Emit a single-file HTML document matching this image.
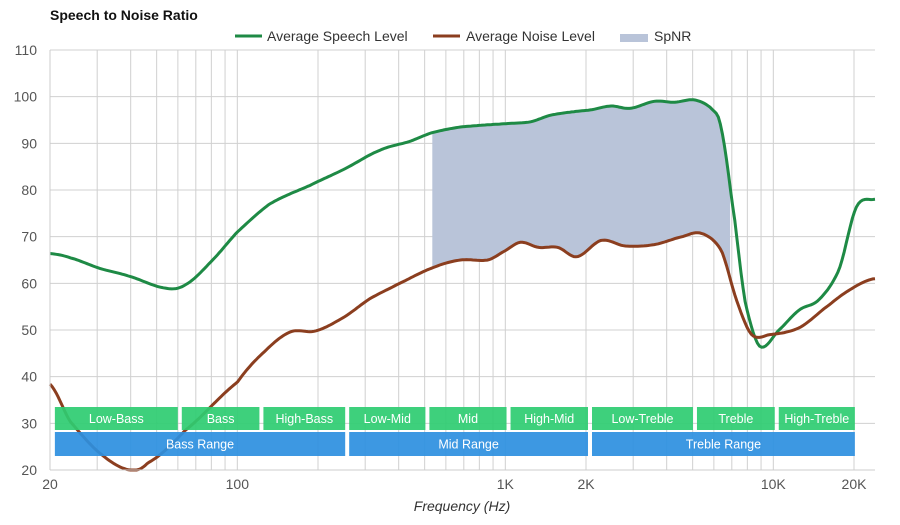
<!DOCTYPE html>
<html><head><meta charset="utf-8"><style>
body{margin:0;background:#fff;font-family:"Liberation Sans",sans-serif}
svg text{font-family:"Liberation Sans",sans-serif}
</style></head><body>
<svg id="c" width="900" height="520">
<text x="50" y="20" font-size="14" font-weight="bold" fill="#111">Speech to Noise Ratio</text>
<g>
<g><line x1="235" y1="36" x2="262" y2="36" stroke="#1e8a45" stroke-width="3"/><text x="267" y="41" font-size="14" fill="#333">Average Speech Level</text></g>
<g><line x1="433" y1="36" x2="460" y2="36" stroke="#8b3e1f" stroke-width="3"/><text x="466" y="41" font-size="14" fill="#333">Average Noise Level</text></g>
<g><rect x="620" y="34" width="28" height="8" fill="#b9c4d9"/><text x="654" y="41" font-size="14" fill="#333">SpNR</text></g>
</g>
<g id="grid"></g><g id="fill"></g><g id="lines"></g><g id="bands"></g><g id="axes"></g>
<text x="462" y="511" font-size="14" font-style="italic" fill="#333" text-anchor="middle">Frequency (Hz)</text>
</svg>
<script>
const speechFreq=[20,23.7,30.7,39.6,53.7,63.6,79,100,132,187,251,340,440,534,679,1000,1240,1470,1750,2100,2480,2920,3600,4270,5080,5870,6400,7200,7850,8900,10500,12500,14800,17600,20400,23700];
const speechDb=[66.4,65.5,63.2,61.5,59,59.6,64.4,71,77,81,84.5,88.5,90.4,92.3,93.5,94.2,94.6,96,96.7,97.2,98,97.5,99,98.8,99.3,97.5,93,73,56,46.5,50,54.3,56.5,63,76.3,78];
const noiseFreq=[20,23.7,30.7,39.6,46.3,63.6,100,127,158,196,251,312,400,534,679,862,1000,1140,1330,1570,1850,2280,2800,3600,4580,5400,6400,7300,8300,9660,12500,16100,19800,23700];
const noiseDb=[38.4,30.5,23.6,20,21.5,28.4,38.8,45.5,49.6,49.8,52.8,56.7,59.9,63.3,65,65,67,68.8,67.7,67.7,65.7,69.2,68,68.3,70,70.7,67,56.3,49,49,50.5,55.3,59,61];
const spnrRange=[534,6900];
const yTicks=[20,30,40,50,60,70,80,90,100,110];
const xLabelVals=[20,100,1000,2000,10000,20000];
const xLabelText=["20","100","1K","2K","10K","20K"];
const bandNames=["Low-Bass","Bass","High-Bass","Low-Mid","Mid","High-Mid","Low-Treble","Treble","High-Treble"];
const bandEdges=[20.5,61,123,257,512,1028,2070,5100,10300,20500];
const rangeNames=["Bass Range","Mid Range","Treble Range"];
const rangeEdges=[20.5,257,2070,20500];

const NS="http://www.w3.org/2000/svg";
const L=50,R=875,T=50,B=470;
const X=f=>L+268*Math.log10(f/20);
const Y=d=>B-(d-20)*(B-T)/90;
function mk(tag,attrs,parent){const e=document.createElementNS(NS,tag);for(const k in attrs)e.setAttribute(k,attrs[k]);document.getElementById(parent).appendChild(e);return e;}
const gridF=[];for(let d=10;d<=10000;d*=10)for(let m=1;m<10;m++){const f=d*m;if(f>=20&&f<=20000)gridF.push(f);}
gridF.push(20000);
gridF.forEach(f=>{const e=mk('line',{x1:X(f),x2:X(f),y1:T,y2:B,stroke:'#d0d0d0','stroke-width':1},'grid');

});
yTicks.forEach(t=>{const e=mk('line',{x1:L,x2:R,y1:Y(t),y2:Y(t),stroke:'#d0d0d0','stroke-width':1},'grid');


const tx=mk('text',{x:37,y:Y(t)+5,'font-size':14,fill:'#555','text-anchor':'end'},'axes');tx.textContent=t;

});
mk('line',{x1:L,x2:L,y1:T,y2:B,stroke:'#ccc'},'axes');
mk('line',{x1:L,x2:R,y1:B,y2:B,stroke:'#ccc'},'axes');
xLabelVals.forEach((v,i)=>{const tx=mk('text',{x:X(v),y:489,'font-size':14,fill:'#555','text-anchor':'middle'},'axes');tx.textContent=xLabelText[i];

});
function evalAt(fs,ds,f){const lx=Math.log10(f);const xs=fs.map(Math.log10);let i=0;while(i<xs.length-2&&lx>xs[i+1])i++;
const t=Math.max(0,Math.min(1,(lx-xs[i])/(xs[i+1]-xs[i])));const p0=ds[Math.max(0,i-1)],p1=ds[i],p2=ds[i+1],p3=ds[Math.min(ds.length-1,i+2)];
return 0.5*((2*p1)+(-p0+p2)*t+(2*p0-5*p1+4*p2-p3)*t*t+(-p0+3*p1-3*p2+p3)*t*t*t);}
function path(fs,ds,a,b){let s='';const n=400;for(let k=0;k<=n;k++){const f=a*Math.pow(b/a,k/n);s+=(k?'L':'M')+X(f).toFixed(1)+','+Y(Math.max(20,evalAt(fs,ds,f))).toFixed(1);}return s;}
(function(){const a=spnrRange[0],b=spnrRange[1],n=200;let s='';
for(let k=0;k<=n;k++){const f=a*Math.pow(b/a,k/n);s+=(k?'L':'M')+X(f).toFixed(1)+','+Y(evalAt(speechFreq,speechDb,f)).toFixed(1);}
for(let k=n;k>=0;k--){const f=a*Math.pow(b/a,k/n);s+='L'+X(f).toFixed(1)+','+Y(evalAt(noiseFreq,noiseDb,f)).toFixed(1);}
const e=mk('path',{d:s+'Z',fill:'#b9c4d9'},'fill');

})();
const fmax=20*Math.pow(10,(R-L)/268);
const sp=mk('path',{d:path(speechFreq,speechDb,20,fmax),fill:'none',stroke:'#1e8a45','stroke-width':3},'lines');


const np=mk('path',{d:path(noiseFreq,noiseDb,20,fmax),fill:'none',stroke:'#8b3e1f','stroke-width':3},'lines');


function band(x1,x2,y,h,color,label,name){const r=mk('rect',{x:x1+2,y:y,width:x2-x1-4,height:h,fill:color,opacity:0.92},'bands');


const t=mk('text',{x:(x1+x2)/2,y:y+h/2+4.5,'font-size':12.5,fill:'#fff','text-anchor':'middle'},'bands');t.textContent=label;}
bandNames.forEach((n,i)=>band(X(bandEdges[i]),X(bandEdges[i+1]),407,23,'#2ecc71',n,'band-'+n.toLowerCase()));
rangeNames.forEach((n,i)=>band(X(rangeEdges[i]),X(rangeEdges[i+1]),432,24,'#2d8fe0',n,'range-'+n.split(' ')[0].toLowerCase()));
</script>
</body></html>
